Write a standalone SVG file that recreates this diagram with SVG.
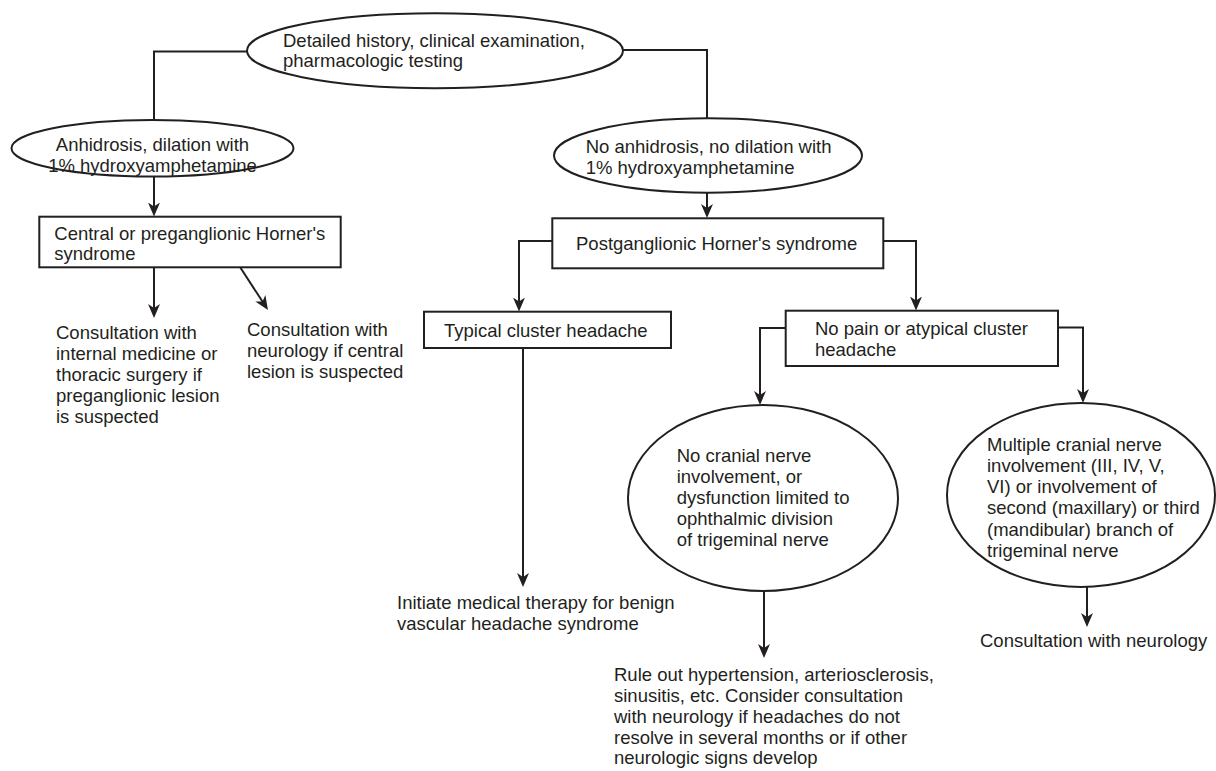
<svg xmlns="http://www.w3.org/2000/svg" width="1216" height="771" viewBox="0 0 1216 771">
<defs>
<marker id="arr" viewBox="0 0 14 12" refX="6" refY="6" markerWidth="14" markerHeight="12" markerUnits="userSpaceOnUse" orient="auto">
<path d="M0,0 L14,6 L0,12 L4,6 z" fill="#231f20"/>
</marker>
<style>
.shape{fill:#fff;stroke:#231f20;stroke-width:2}
.t{font-family:"Liberation Sans",Arial,Helvetica,sans-serif;font-size:18.5px;fill:#231f20}
.c{fill:none;stroke:#231f20;stroke-width:2}
.a{marker-end:url(#arr)}
</style>
</defs>
<rect width="1216" height="771" fill="#fff"/>
<g id="connectors">
<path class="c" d="M247,51.5 H154 V120"/>
<path class="c" d="M622.7,50 H707 V118.5"/>
<path class="c a" d="M154,177 V208.5"/>
<path class="c a" d="M707,193 V210"/>
<path class="c a" d="M154,267 V310"/>
<path class="c a" d="M240,267 L263.6,303.3"/>
<path class="c a" d="M552,241 H519 V303.5"/>
<path class="c a" d="M883,241 H916 V302.5"/>
<path class="c a" d="M523,348 V579"/>
<path class="c a" d="M786,328 H760 V397"/>
<path class="c a" d="M1058,327.5 H1083 V395"/>
<path class="c a" d="M764,591 V650"/>
<path class="c a" d="M1087,587 V619"/>
</g>
<g id="n-top">
<ellipse class="shape" cx="435" cy="50.7" rx="188" ry="37.5"/>
<text class="t" x="283" y="46.5">Detailed history, clinical examination,</text>
<text class="t" x="283" y="66.5">pharmacologic testing</text>
</g>
<g id="n-anhidrosis">
<ellipse class="shape" cx="152.5" cy="148.3" rx="141" ry="28.3"/>
<text class="t" x="152.5" y="150.7" text-anchor="middle">Anhidrosis, dilation with</text>
<text class="t" x="152.5" y="171.7" text-anchor="middle">1% hydroxyamphetamine</text>
</g>
<g id="n-no-anhidrosis">
<ellipse class="shape" cx="708" cy="155.5" rx="154" ry="37.2"/>
<text class="t" x="585.7" y="153.3">No anhidrosis, no dilation with</text>
<text class="t" x="585.7" y="174">1% hydroxyamphetamine</text>
</g>
<g id="n-central">
<rect class="shape" x="39.3" y="216.7" width="301.4" height="50.6"/>
<text class="t" x="54.3" y="239.5">Central or preganglionic Horner's</text>
<text class="t" x="54.3" y="259.5">syndrome</text>
</g>
<g id="n-consult-internal">
<text class="t" x="56" y="339">Consultation with</text>
<text class="t" x="56" y="360">internal medicine or</text>
<text class="t" x="56" y="381">thoracic surgery if</text>
<text class="t" x="56" y="402">preganglionic lesion</text>
<text class="t" x="56" y="423">is suspected</text>
</g>
<g id="n-consult-neuro-central">
<text class="t" x="247" y="336">Consultation with</text>
<text class="t" x="247" y="357">neurology if central</text>
<text class="t" x="247" y="378">lesion is suspected</text>
</g>
<g id="n-postganglionic">
<rect class="shape" x="552.3" y="218.3" width="331" height="50"/>
<text class="t" x="576" y="250">Postganglionic Horner's syndrome</text>
</g>
<g id="n-typical">
<rect class="shape" x="424" y="311.7" width="247" height="36.3"/>
<text class="t" x="444" y="336.7">Typical cluster headache</text>
</g>
<g id="n-nopain">
<rect class="shape" x="785.7" y="310.7" width="272.3" height="55.3"/>
<text class="t" x="815" y="335">No pain or atypical cluster</text>
<text class="t" x="815" y="355.5">headache</text>
</g>
<g id="n-initiate">
<text class="t" x="397" y="609">Initiate medical therapy for benign</text>
<text class="t" x="397" y="630">vascular headache syndrome</text>
</g>
<g id="n-nocranial">
<ellipse class="shape" cx="763" cy="498" rx="135" ry="93"/>
<text class="t" x="676.7" y="462.3">No cranial nerve</text>
<text class="t" x="676.7" y="483.3">involvement, or</text>
<text class="t" x="676.7" y="504.3">dysfunction limited to</text>
<text class="t" x="676.7" y="525.3">ophthalmic division</text>
<text class="t" x="676.7" y="546.3">of trigeminal nerve</text>
</g>
<g id="n-multiple">
<ellipse class="shape" cx="1081" cy="495" rx="134" ry="92"/>
<text class="t" x="987" y="450.7">Multiple cranial nerve</text>
<text class="t" x="987" y="471.9">involvement (III, IV, V,</text>
<text class="t" x="987" y="493.1">VI) or involvement of</text>
<text class="t" x="987" y="514.3">second (maxillary) or third</text>
<text class="t" x="987" y="535.5">(mandibular) branch of</text>
<text class="t" x="987" y="556.7">trigeminal nerve</text>
</g>
<g id="n-ruleout">
<text class="t" x="614" y="680.7">Rule out hypertension, arteriosclerosis,</text>
<text class="t" x="614" y="701.5">sinusitis, etc. Consider consultation</text>
<text class="t" x="614" y="722.5">with neurology if headaches do not</text>
<text class="t" x="614" y="743.5">resolve in several months or if other</text>
<text class="t" x="614" y="764">neurologic signs develop</text>
</g>
<g id="n-consult-neuro">
<text class="t" x="980" y="647">Consultation with neurology</text>
</g>
</svg>
